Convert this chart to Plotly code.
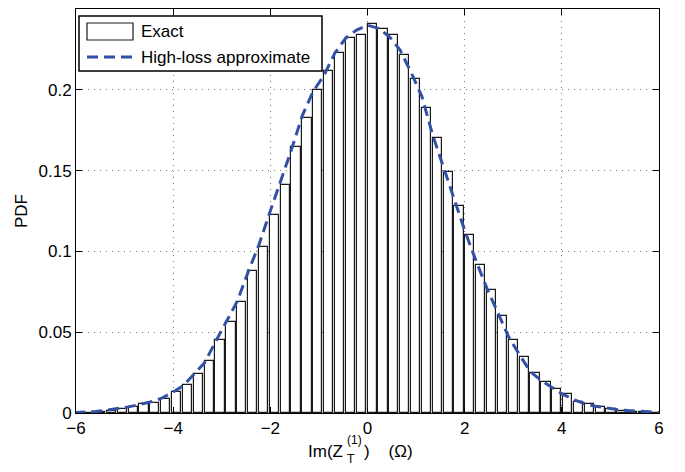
import plotly.graph_objects as go

# Left edges of histogram bins (Ohm)
bin_left = [-5.814, -5.590, -5.366, -5.143, -4.919, -4.696, -4.472, -4.248, -4.025, -3.801,
            -3.578, -3.354, -3.130, -2.907, -2.683, -2.460, -2.236, -2.012, -1.789, -1.565,
            -1.342, -1.118, -0.894, -0.671, -0.447, -0.224, 0.000, 0.224, 0.447, 0.671,
            0.894, 1.118, 1.342, 1.565, 1.789, 2.012, 2.236, 2.460, 2.683, 2.907,
            3.130, 3.354, 3.578, 3.801, 4.025, 4.248, 4.472, 4.696, 4.919, 5.143,
            5.366, 5.590, 5.814]

exact_pdf = [0.0003, 0.0005, 0.0015, 0.0025, 0.0040, 0.0054, 0.0064, 0.0087, 0.0132, 0.0175,
             0.0240, 0.0320, 0.0452, 0.0565, 0.0689, 0.0879, 0.1025, 0.1225, 0.1410, 0.1646,
             0.1825, 0.2000, 0.2115, 0.2230, 0.2320, 0.2340, 0.2405, 0.2375, 0.2340, 0.2215,
             0.2065, 0.1886, 0.1704, 0.1493, 0.1281, 0.1101, 0.0916, 0.0760, 0.0600, 0.0450,
             0.0345, 0.0246, 0.0194, 0.0147, 0.0118, 0.0066, 0.0056, 0.0035, 0.0023, 0.0014,
             0.0008, 0.0005, 0.0003]

approx_x = [-6.037] + bin_left + [6.037]
approx_pdf = [0.0003, 0.0006, 0.0010, 0.0017, 0.0026, 0.0038, 0.0052, 0.0068, 0.0090, 0.0125, 0.0167,
              0.0240, 0.0310, 0.0440, 0.0560, 0.0690, 0.0870, 0.1040, 0.1240, 0.1430, 0.1630,
              0.1840, 0.1990, 0.2090, 0.2228, 0.2320, 0.2370, 0.2400, 0.2380, 0.2330, 0.2246,
              0.2110, 0.1960, 0.1720, 0.1520, 0.1310, 0.1120, 0.0940, 0.0770, 0.0620, 0.0470,
              0.0360, 0.0255, 0.0200, 0.0155, 0.0115, 0.0082, 0.0058, 0.0042, 0.0030, 0.0021,
              0.0015, 0.0010, 0.0006, 0.0003]

x_ticks = [-6, -4, -2, 0, 2, 4, 6]
x_tick_labels = ["\u22126", "\u22124", "\u22122", "0", "2", "4", "6"]
y_ticks = [0, 0.05, 0.1, 0.15, 0.2, 0.25]
y_tick_labels = ["0", "0.05", "0.1", "0.15", "0.2", "0.25"]

FONT = "Liberation Sans, Arial, Helvetica, sans-serif"
BLUE = "#3150a6"

fig = go.Figure()
fig.add_trace(go.Bar(
    x=bin_left, y=exact_pdf, offset=0, width=0.19,
    marker=dict(color="white", line=dict(color="#1a1a1a", width=1.2)),
    name="Exact", showlegend=False,
))
fig.add_trace(go.Scatter(
    x=approx_x, y=approx_pdf, mode="lines",
    line=dict(color=BLUE, width=3, dash="11px,6px"),
    name="High-loss approximate", showlegend=False,
))

axis_common = dict(
    showline=True, linecolor="black", linewidth=1, mirror="ticks",
    ticks="inside", ticklen=6, tickcolor="black",
    showgrid=True, gridcolor="#777777", griddash="1px,5px", gridwidth=1,
    zeroline=False, automargin=False,
    tickfont=dict(family=FONT, size=17, color="black"),
)

fig.update_xaxes(range=[-6, 6], tickvals=x_ticks, ticktext=x_tick_labels, **axis_common)
fig.update_yaxes(range=[0, 0.25], tickvals=y_ticks, ticktext=y_tick_labels,
                 title=dict(text="PDF", font=dict(family=FONT, size=17, color="black"), standoff=6),
                 **axis_common)

# the page body adds an 8 px margin; size the figure so it fills the window
OFF = 8
W, H = 685 - OFF, 472 - OFF
L, R, T, B = 76 - OFF, 26, 9 - OFF, 59
pw, ph = W - L - R, H - T - B

def px(xp):
    # window pixel x -> paper fraction
    return (xp - OFF - L) / pw

def py(yp):
    # window pixel y -> paper fraction
    return 1 - (yp - OFF - T) / ph

shapes = [
    # legend box
    dict(type="rect", xref="paper", yref="paper", x0=px(79), x1=px(322), y0=py(71), y1=py(16),
         fillcolor="white", line=dict(color="black", width=1.5), layer="above"),
    dict(type="rect", xref="paper", yref="paper", x0=px(87), x1=px(133), y0=py(40), y1=py(23),
         fillcolor="white", line=dict(color="#1a1a1a", width=1.2), layer="above"),
    dict(type="line", xref="paper", yref="paper", x0=px(87), x1=px(133), y0=py(57), y1=py(57),
         line=dict(color=BLUE, width=3, dash="11px,6px"), layer="above"),
]

annotations = [
    dict(text="Exact", xref="paper", yref="paper", x=px(139), y=py(31), xanchor="left", yanchor="middle",
         showarrow=False, font=dict(family=FONT, size=17, color="black")),
    dict(text="High-loss approximate", xref="paper", yref="paper", x=px(139), y=py(57),
         xanchor="left", yanchor="middle", showarrow=False, font=dict(family=FONT, size=17, color="black")),
    # x-axis title with stacked sub/superscript
    dict(text="Im(Z", xref="paper", yref="paper", x=px(345), y=py(451), xanchor="right", yanchor="middle",
         showarrow=False, font=dict(family=FONT, size=17, color="black")),
    dict(text="(1)", xref="paper", yref="paper", x=px(345), y=py(440), xanchor="left", yanchor="middle",
         showarrow=False, font=dict(family=FONT, size=12, color="black")),
    dict(text="T", xref="paper", yref="paper", x=px(345), y=py(459), xanchor="left", yanchor="middle",
         showarrow=False, font=dict(family=FONT, size=12, color="black")),
    dict(text=")&nbsp;&nbsp;&nbsp;&nbsp;(\u03a9)", xref="paper", yref="paper", x=px(362), y=py(451),
         xanchor="left", yanchor="middle", showarrow=False, font=dict(family=FONT, size=17, color="black")),
]

fig.update_layout(
    width=W, height=H,
    margin=dict(l=L, r=R, t=T, b=B, autoexpand=False),
    plot_bgcolor="white", paper_bgcolor="white",
    bargap=0, shapes=shapes, annotations=annotations,
    showlegend=False,
)

fig.write_html("out.html")
